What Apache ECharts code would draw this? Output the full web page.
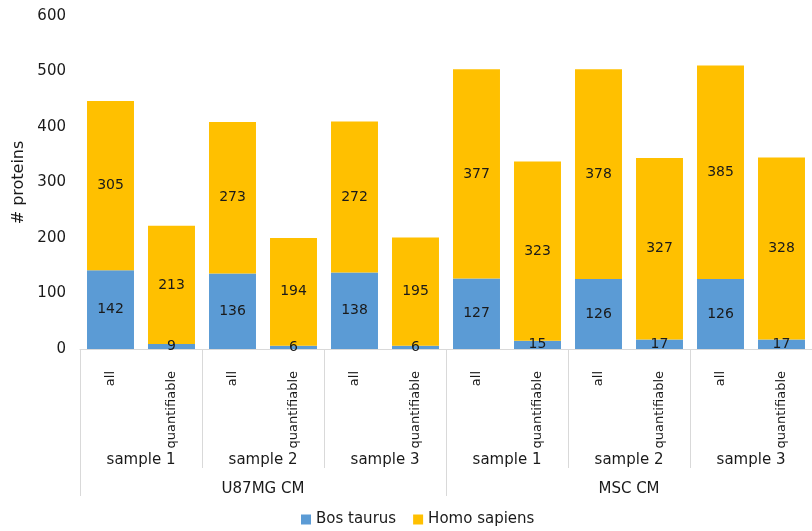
<!DOCTYPE html>
<html>
<head>
<meta charset="utf-8">
<script src="https://cdn.jsdelivr.net/npm/echarts@6/dist/echarts.min.js"></script>
<style>
  html, body { margin: 0; padding: 0; background: #fff; }
  #charts { width: 812px; height: 531px; }
</style>
</head>
<body>
<div id="charts"></div>
<script>
var types = ["all", "quantifiable", "all", "quantifiable", "all", "quantifiable",
             "all", "quantifiable", "all", "quantifiable", "all", "quantifiable"];
var samples = ["sample 1", "sample 2", "sample 3", "sample 1", "sample 2", "sample 3"];
var groups = ["U87MG CM", "MSC CM"];
var bosTaurus = [142, 9, 136, 6, 138, 6, 127, 15, 126, 17, 126, 17];
var homoSapiens = [305, 213, 273, 194, 272, 195, 377, 323, 378, 327, 385, 328];
var yTicks = [0, 100, 200, 300, 400, 500, 600];

var font = "DejaVu Sans";
var lineColor = "#d9d9d9";
var txt = "#1a1a1a";

var chart = echarts.init(document.getElementById("charts"));
var option = {
  animation: false,
  textStyle: { fontFamily: font },
  color: ["#5B9BD5", "#FFC000"],
  grid: { left: 80, right: 0, top: 16, bottom: 182 },
  legend: {
    bottom: 4,
    left: 301,
    padding: 0,
    itemWidth: 10,
    itemHeight: 10,
    itemGap: 17,
    icon: "rect",
    textStyle: { fontFamily: font, fontSize: 15, color: txt },
    data: ["Bos taurus", "Homo sapiens"]
  },
  xAxis: [{
    type: "category",
    data: types,
    position: "bottom",
    axisLine: { lineStyle: { color: lineColor } },
    axisTick: { show: false },
    axisLabel: { rotate: 90, margin: 22, fontSize: 13, color: txt, fontFamily: font, interval: 0 }
  }, {
    type: "category",
    data: samples,
    position: "bottom",
    offset: 0,
    axisLine: { show: false },
    axisTick: { show: true, length: 119, lineStyle: { color: lineColor } },
    axisLabel: { margin: 104, fontSize: 15, color: txt, fontFamily: font, interval: 0 }
  }, {
    type: "category",
    data: groups,
    position: "bottom",
    offset: 0,
    axisLine: { show: false },
    axisTick: { show: true, length: 147, lineStyle: { color: lineColor } },
    axisLabel: { margin: 133, fontSize: 15, color: txt, fontFamily: font, interval: 0 }
  }],
  yAxis: {
    type: "value",
    min: yTicks[0],
    max: yTicks[yTicks.length - 1],
    interval: 100,
    name: "# proteins",
    nameLocation: "middle",
    nameGap: 50,
    nameTextStyle: { fontSize: 16, color: txt, fontFamily: font },
    axisLine: { show: false },
    axisTick: { show: false },
    splitLine: { show: false },
    axisLabel: { fontSize: 15, color: txt, margin: 14, fontFamily: font }
  },
  series: [{
    name: "Bos taurus",
    type: "bar",
    stack: "total",
    xAxisIndex: 0,
    barWidth: "77%",
    data: bosTaurus,
    label: { show: true, position: "inside", fontSize: 14, color: txt, fontFamily: font }
  }, {
    name: "Homo sapiens",
    type: "bar",
    stack: "total",
    xAxisIndex: 0,
    barWidth: "77%",
    data: homoSapiens,
    label: { show: true, position: "inside", fontSize: 14, color: txt, fontFamily: font }
  }]
};
chart.setOption(option);
</script>
</body>
</html>
